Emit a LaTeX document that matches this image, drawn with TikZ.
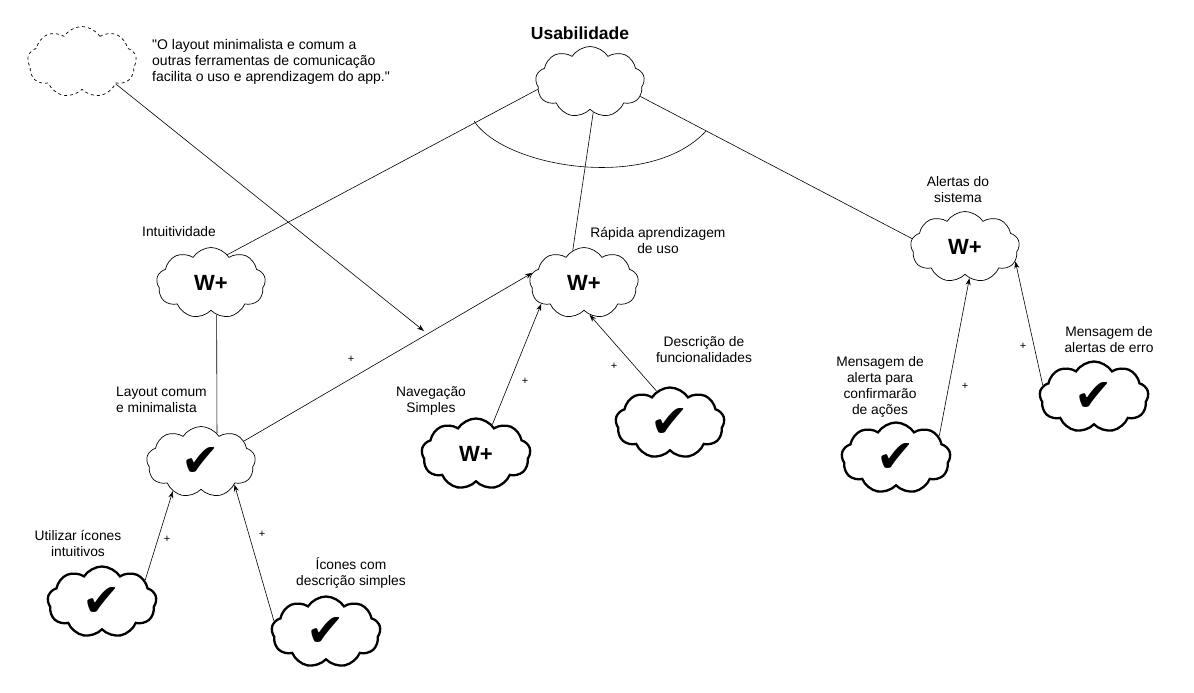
\documentclass[tikz,border=0pt]{standalone}
\usepackage{fontspec}
\setmainfont{Liberation Sans}
\newfontfamily\qfont{Liberation Sans}[Ligatures=TeXOff]
\newfontfamily\symfont{DejaVu Sans}
\usetikzlibrary{shapes.symbols,arrows.meta}
\begin{document}
\begin{tikzpicture}[x=1pt,y=-1pt,
  cl/.style={cloud, cloud puffs=9, cloud puff arc=115, cloud ignores aspect,
    minimum width=109pt, minimum height=71pt, inner sep=0pt, draw, line width=0.7pt, fill=white},
  op/.style={cl, line width=2.3pt},
  lbl/.style={font=\fontsize{13.8}{16}\selectfont, align=center, inner sep=0pt},
  wp/.style={font=\fontsize{22}{24}\selectfont\bfseries},
  ck/.style={font=\fontsize{46}{46}\selectfont\symfont},
  con/.style={line width=0.6pt},
  arr/.style={con, -{Stealth[length=7pt,width=5pt]}},
  pl/.style={font=\fontsize{11}{11}\selectfont, inner sep=0pt}]
\useasboundingbox (0,0) rectangle (1194,693);

% clouds
\node[cl, dashed] (q) at (82,62) {};
\node[cl] (u) at (590,82) {};
\node[cl, wp] (i) at (211,283) {W+};
\node[cl, wp] (r) at (584,283) {W+};
\node[cl, wp] (a) at (965,247) {W+};
\node[cl, ck] (l) at (201,462) {\char"2714};
\node[op, wp] (n) at (476,454) {W+};
\node[op, ck] (d) at (670,423) {\char"2714};
\node[op, ck] (ui) at (102,602) {\char"2714};
\node[op, ck] (ic) at (326,632) {\char"2714};
\node[op, ck] (ma) at (896,458) {\char"2714};
\node[op, ck] (me) at (1094,397) {\char"2714};

% labels
\node[lbl, font=\fontsize{14}{16}\selectfont\qfont, anchor=west, align=left] (qt) at (152,62) {"O layout minimalista e comum a\\outras ferramentas de comunicação\\facilita o uso e aprendizagem do app."};
\node[lbl, font=\fontsize{17.5}{20}\selectfont\bfseries] (ut) at (580,33) {Usabilidade};
\node[lbl] (it) at (179,232) {Intuitividade};
\node[lbl] (rt) at (658,240) {Rápida aprendizagem\\de uso};
\node[lbl] (at) at (958,190) {Alertas do\\sistema};
\node[lbl, anchor=west, align=left] (lt) at (116,400) {Layout comum\\e minimalista};
\node[lbl] (nt) at (431,401) {Navegação\\Simples};
\node[lbl] (dt) at (704,350) {Descrição de\\funcionalidades};
\node[lbl] (uit) at (78,543) {Utilizar ícones\\intuitivos};
\node[lbl] (ict) at (351,573) {Ícones com\\descrição simples};
\node[lbl] (mat) at (880,387) {Mensagem de\\alerta para\\confirmarão\\de ações};
\node[lbl] (met) at (1109,340) {Mensagem de\\alertas de erro};

% AND arc
\coordinate (arcA) at (474,121);
\coordinate (arcB) at (706,131);
\draw[con] (arcA) .. controls (505,168) and (650,192) .. (arcB);

% decomposition links
\draw[con] (u.188) -- (i.60);
\draw[con] (u.-84) -- (r.109);
\draw[con] (u.-16) -- (a.171);
\draw[con] (i.-80) -- (l.61);

% contribution links
\draw[arr] (l.26) -- (r.169);
\draw[arr] (n.61) -- (r.-154);
\draw[arr] (d.113) -- (r.-80);
\draw[arr] (ui.27) -- (l.-134);
\draw[arr] (ic.168) -- (l.-34);
\draw[arr] (ma.27) -- (a.-82);
\draw[arr] (me.167) -- (a.-16);

\coordinate (qe) at (424,331);
\draw[arr] (q.-33) -- (qe);

% plus signs
\node[pl] (p1) at (351,359) {+};
\node[pl] (p2) at (525,381) {+};
\node[pl] (p3) at (614,366) {+};
\node[pl] (p4) at (167,539) {+};
\node[pl] (p5) at (262,534) {+};
\node[pl] (p6) at (965,386) {+};
\node[pl] (p7) at (1023,346) {+};
\end{tikzpicture}
\end{document}
